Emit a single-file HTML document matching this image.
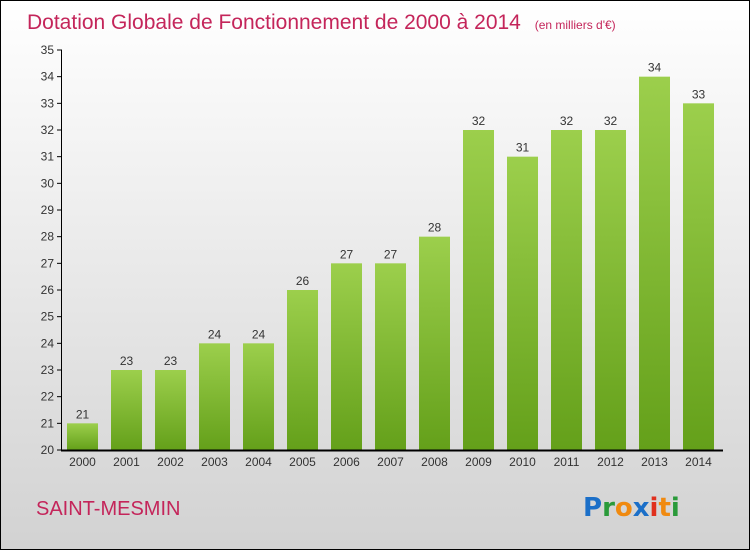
<!DOCTYPE html>
<html><head><meta charset="utf-8"><style>
html,body{margin:0;padding:0}
body{width:750px;height:550px;overflow:hidden;font-family:"Liberation Sans",sans-serif}
#wrap{position:absolute;left:0;top:0;width:748px;height:548px;border:1px solid #000;background:linear-gradient(#ffffff,#d2d2d2)}
</style></head><body>
<div id="wrap">
<svg id="chart" width="748" height="548">
<defs><linearGradient id="g" x1="0" y1="0" x2="0" y2="1"><stop offset="0" stop-color="#9ccf4c"/><stop offset="1" stop-color="#64a01a"/></linearGradient></defs>
<text x="26" y="28" font-size="21" fill="#c4255a">Dotation Globale de Fonctionnement de 2000 à 2014 <tspan font-size="12" dx="8">(en milliers d'€)</tspan></text>
<text x="35" y="514" font-size="20" fill="#c4255a">SAINT-MESMIN</text>
<g font-size="26" font-weight="bold" font-family="'DejaVu Sans',sans-serif">
<text x="582" y="515"><tspan fill="#1b6fc8">P</tspan><tspan fill="#2a9a3a">r</tspan><tspan fill="#f08a10">o</tspan><tspan fill="#1b6fc8">x</tspan><tspan fill="#e0301e">i</tspan><tspan fill="#f08a10">t</tspan><tspan fill="#2a9a3a">i</tspan></text></g>
<g id="plot"></g>
</svg></div>
<script>
const years=["2000","2001","2002","2003","2004","2005","2006","2007","2008","2009","2010","2011","2012","2013","2014"];
const values=[21,23,23,24,24,26,27,27,28,32,31,32,32,34,33];
const yTicks=[20,21,22,23,24,25,26,27,28,29,30,31,32,33,34,35];
const NS="http://www.w3.org/2000/svg";
const g=document.getElementById('plot');
const y=v=>449-(v-20)*400/15;
const x=i=>81.5+i*44;
function el(t,a){const e=document.createElementNS(NS,t);for(const k in a)e.setAttribute(k,a[k]);g.appendChild(e);return e;}
yTicks.forEach(v=>{
 const l=el('line',{x1:56,x2:61,y1:y(v),y2:y(v),stroke:'#000'});
 
 
 const t=el('text',{x:53,y:y(v)+4,'text-anchor':'end','font-size':12,fill:'#333'});t.textContent=v;
 
 
});
values.forEach((v,i)=>{
 const r=el('rect',{x:x(i)-15.5,y:y(v),width:31,height:y(20)-y(v),fill:'url(#g)'});
 
 
 const t=el('text',{x:x(i),y:y(v)-5,'text-anchor':'middle','font-size':12,fill:'#333'});t.textContent=v;
 
 
 const k=el('text',{x:x(i),y:465,'text-anchor':'middle','font-size':12,fill:'#333'});k.textContent=years[i];
 
 
});
const ya=el('line',{x1:60.5,x2:60.5,y1:y(35),y2:y(20),stroke:'#000'});


const xa=el('line',{x1:60,x2:722,y1:y(20)+0.5,y2:y(20)+0.5,stroke:'#000','stroke-width':2});


</script>
</body></html>
